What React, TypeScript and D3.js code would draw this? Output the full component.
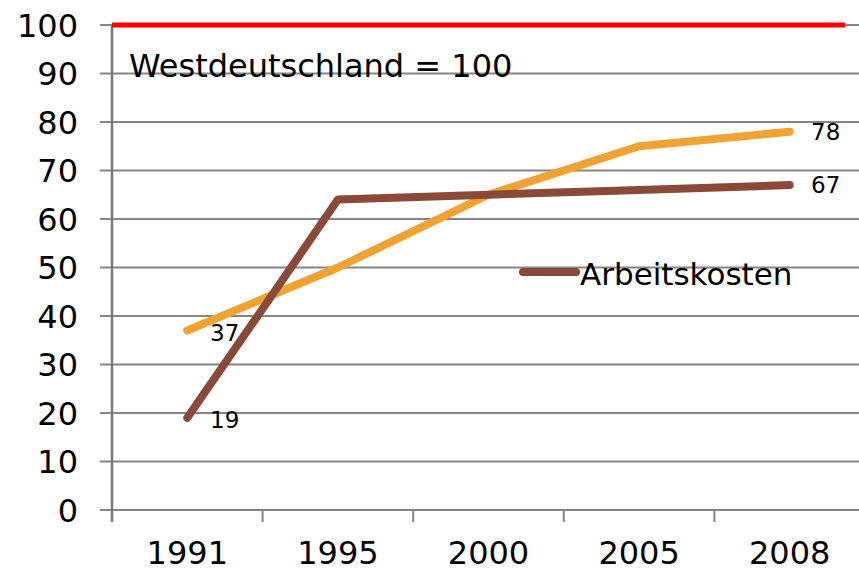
import React from "react";
import * as d3 from "d3";

const years = ["1991", "1995", "2000", "2005", "2008"];
const arbeitskosten = [19, 64, 65, 66, 67];
const orangeSeries = [37, 50, 65, 75, 78];
const yTicks = [0, 10, 20, 30, 40, 50, 60, 70, 80, 90, 100];
const referenceValue = 100;
const annotation = "Westdeutschland = 100";
const legendLabel = "Arbeitskosten";

const W = 859;
const H = 571;
const left = 112;
const plotRight = 865;
const top = 25;
const bottom = 510;
const font = "'DejaVu Sans', sans-serif";

export default function App() {
  const x = d3.scaleBand<string>().domain(years).range([left, plotRight]);
  const y = d3.scaleLinear().domain([0, 100]).range([bottom, top]);
  const cx = (d: string) => (x(d) as number) + x.bandwidth() / 2;
  const line = d3
    .line<number>()
    .x((_, i) => cx(years[i]))
    .y((v) => y(v));

  const tickBounds = years.map((d) => x(d) as number);

  return (
    <svg
      width={W}
      height={H}
      style={{ position: "absolute", left: 0, top: 0, background: "#fff" }}
    >
      {yTicks.map((t) => (
        <g key={t}>
          <line x1={100} x2={W} y1={y(t)} y2={y(t)} stroke="#858585" strokeWidth={2} />
          <text
            x={78}
            y={y(t)}
            dy="0.36em"
            textAnchor="end"
            fontFamily={font}
            fontSize={32}
            fill="#000"
          >
            {t}
          </text>
        </g>
      ))}
      <line x1={left} x2={left} y1={top} y2={bottom + 12} stroke="#777" strokeWidth={2.5} />
      {tickBounds.slice(1).map((b, i) => (
        <line key={i} x1={b} x2={b} y1={bottom} y2={bottom + 12} stroke="#858585" strokeWidth={2} />
      ))}
      {years.map((d) => (
        <text
          key={d}
          x={cx(d)}
          y={564}
          textAnchor="middle"
          fontFamily={font}
          fontSize={32}
          fill="#000"
        >
          {d}
        </text>
      ))}
      <line
        x1={left}
        x2={845}
        y1={y(referenceValue)}
        y2={y(referenceValue)}
        stroke="#ff0000"
        strokeWidth={5}
      />
      <text x={129} y={77} fontFamily={font} fontSize={32} fill="#000">
        {annotation}
      </text>
      <path
        d={line(orangeSeries) as string}
        fill="none"
        stroke="#f0a330"
        strokeWidth={8}
        strokeLinecap="round"
        strokeLinejoin="round"
      />
      <path
        d={line(arbeitskosten) as string}
        fill="none"
        stroke="#8b4a38"
        strokeWidth={8}
        strokeLinecap="round"
        strokeLinejoin="round"
      />
      <text x={210} y={y(orangeSeries[0])} dy="0.45em" fontFamily={font} fontSize={23} fill="#000">
        {orangeSeries[0]}
      </text>
      <text x={210} y={y(arbeitskosten[0])} dy="0.45em" fontFamily={font} fontSize={23} fill="#000">
        {arbeitskosten[0]}
      </text>
      <text x={811} y={y(orangeSeries[4])} dy="0.36em" fontFamily={font} fontSize={23} fill="#000">
        {orangeSeries[4]}
      </text>
      <text x={811} y={y(arbeitskosten[4])} dy="0.36em" fontFamily={font} fontSize={23} fill="#000">
        {arbeitskosten[4]}
      </text>
      <line x1={523} x2={576} y1={272} y2={272} stroke="#8b4a38" strokeWidth={8} strokeLinecap="round" />
      <text x={580} y={285} fontFamily={font} fontSize={31} fill="#000">
        {legendLabel}
      </text>
    </svg>
  );
}
